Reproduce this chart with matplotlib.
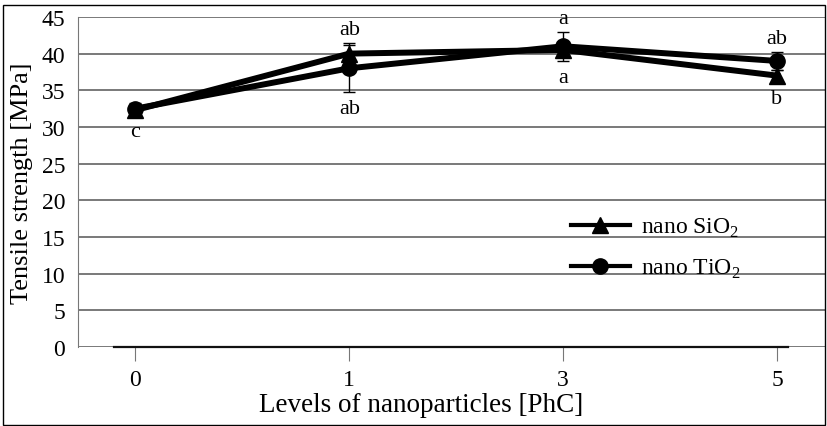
import matplotlib.pyplot as plt
from matplotlib.patches import Rectangle
from matplotlib.lines import Line2D

plt.rcParams['font.family'] = ['Liberation Serif', 'DejaVu Serif']

levels = ['0', '1', '3', '5']
sio2 = [32.3, 40.0, 40.5, 37.0]
sio2_err = [0.6, 1.5, 1.0, 0.8]
tio2 = [32.5, 38.0, 41.0, 39.0]
tio2_err = [0.7, 3.2, 2.0, 1.2]
letters_top = ['', 'ab', 'a', 'ab']
letters_bottom = ['c', 'ab', 'a', 'b']

x = list(range(len(levels)))

fig = plt.figure(figsize=(8.27, 4.27), dpi=100)
ax = fig.add_axes([0.094, 0.185, 0.905, 0.773])

# frame around the whole figure
fig.patches.append(Rectangle((0.004, 0.002), 0.994, 0.984, transform=fig.transFigure,
                             fill=False, edgecolor='black', linewidth=1))

ax.errorbar(x, sio2, yerr=sio2_err, color='black', marker='^', markersize=11,
            linewidth=4.3, capsize=4, elinewidth=1, capthick=1, zorder=3)
ax.errorbar(x, tio2, yerr=tio2_err, color='black', marker='o', markersize=11,
            linewidth=4.3, capsize=4, elinewidth=1, capthick=1, zorder=3)

# significance letters
for i in x:
    top = max(sio2[i] + sio2_err[i], tio2[i] + tio2_err[i])
    bot = min(sio2[i] - sio2_err[i], tio2[i] - tio2_err[i])
    if letters_top[i]:
        ax.text(i, top + 0.5, letters_top[i], ha='center', va='bottom', fontsize=16)
    ax.text(i, bot - 1.0, letters_bottom[i], ha='center', va='top', fontsize=16)

ax.set_xlim(-0.27, 3.23)
ax.set_ylim(0, 45)
ax.set_yticks(range(0, 46, 5))
ax.set_xticks(x)
ax.set_xticklabels(levels)
ax.grid(axis='y', color='#555555', linewidth=1.1)
ax.set_axisbelow(True)

for s in ['top', 'right']:
    ax.spines[s].set_visible(False)
ax.spines['left'].set_color('#777777')
ax.spines['bottom'].set_color('#111111')
ax.spines['bottom'].set_linewidth(1.6)
ax.spines['bottom'].set_bounds(-0.1, 3.05)
ax.spines['bottom'].set_zorder(2.5)
ax.tick_params(axis='y', length=0, labelsize=17, pad=9)
ax.tick_params(axis='x', length=10, width=0.8, color='#777777', labelsize=17, pad=6)

ax.set_ylabel('Tensile strength [MPa]', fontsize=19, labelpad=6)
ax.set_xlabel('Levels of nanoparticles [PhC]', fontsize=19.5, labelpad=2)
ax.xaxis.set_label_coords(0.459, -0.135)

handles = [Line2D([], [], color='black', marker='^', markersize=11, linewidth=3),
           Line2D([], [], color='black', marker='o', markersize=11, linewidth=3)]
ax.legend(handles, ['nano SiO$_\\mathregular{2}$', 'nano TiO$_\\mathregular{2}$'],
          loc='center left', bbox_to_anchor=(0.63, 0.30), frameon=False, fontsize=17,
          handlelength=2.5, labelspacing=0.75, handletextpad=0.5)

fig.savefig('out.png', dpi=100)
